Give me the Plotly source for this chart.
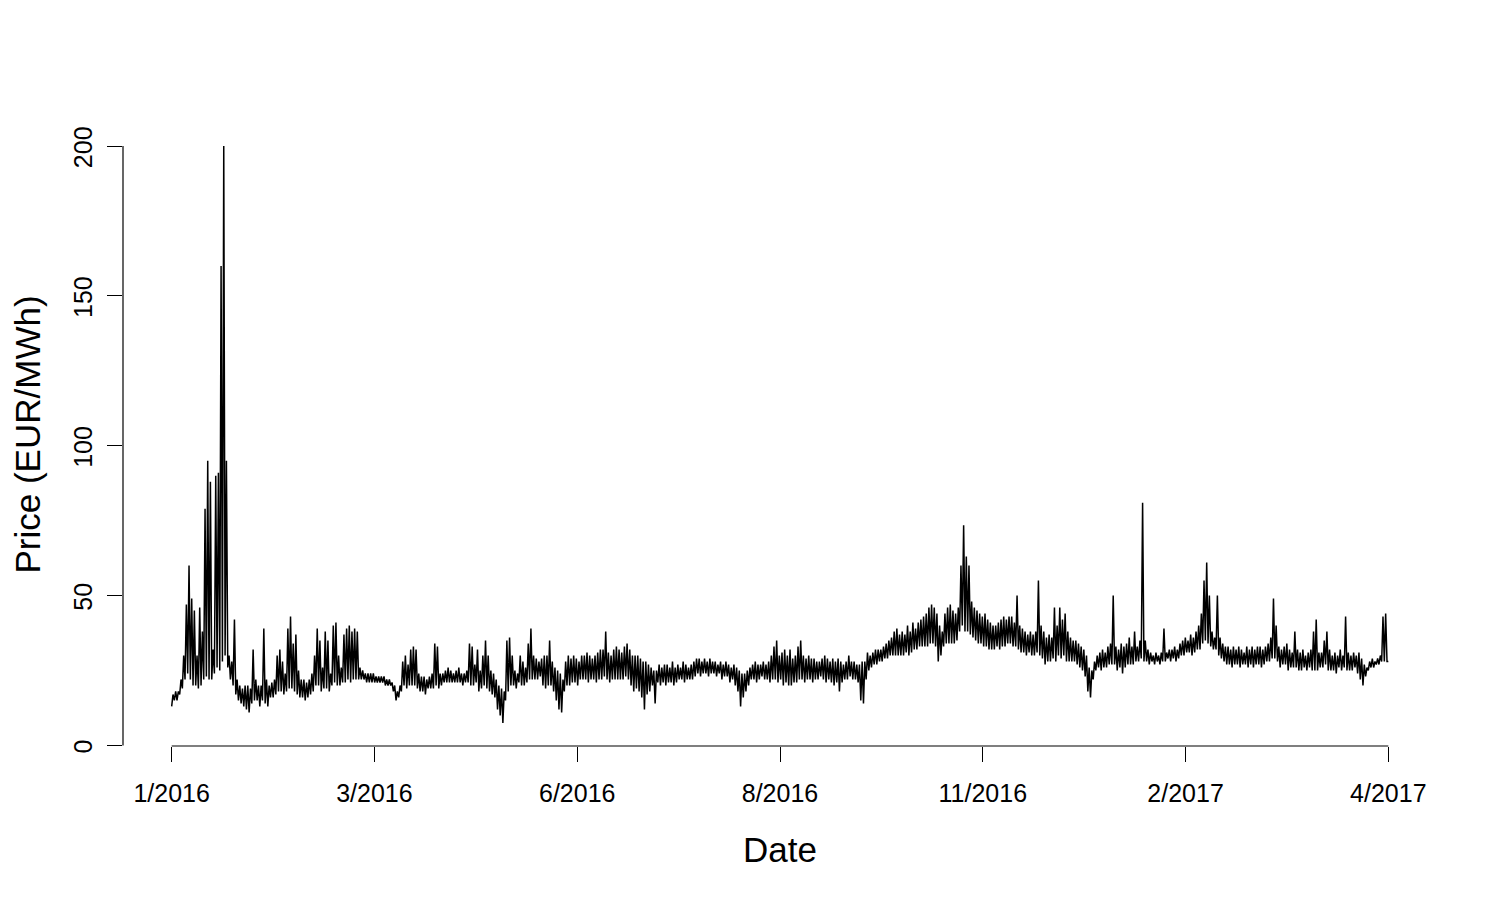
import numpy as np
import plotly.graph_objects as go

# Daily low / high of the hourly price (EUR/MWh), 1 Jan 2016 .. 1 Apr 2017
day_hi = [
17,18,18,22,30,47,60,
49,45,30,46,38,79,95,
88,32,90,91,160,200,95,
30,28,42,22,20,19,20,
20,19,32,22,20,20,39,
22,20,21,22,30,32,28,
24,39,43,34,37,25,22,
22,21,22,24,30,39,35,
26,38,35,24,40,41,30,
26,37,39,40,38,39,38,
26,25,24,24,24,24,23,
23,23,23,22,22,21,20,
18,20,28,30,27,32,33,
32,24,23,23,22,23,24,
34,33,24,24,25,26,25,
24,25,26,24,24,25,34,
33,27,32,25,30,35,30,
25,24,22,20,19,18,35,
36,30,25,24,30,28,26,
34,39,30,29,28,29,30,
30,35,28,26,25,24,22,
28,30,29,30,29,28,30,
30,31,30,29,30,31,32,
32,38,31,30,32,33,32,
31,33,34,32,30,30,30,
29,28,28,27,26,25,25,
27,26,27,27,26,28,26,
27,26,28,27,26,27,28,
29,29,28,29,28,29,28,
28,27,28,27,28,27,26,
27,26,25,24,24,25,26,
27,28,27,27,28,27,28,
30,33,35,30,31,32,30,
32,29,30,33,35,30,29,
30,29,29,28,28,29,30,
29,28,29,28,29,28,27,
28,30,28,28,27,27,28,
28,31,30,31,32,32,32,
33,34,35,36,38,39,37,
38,37,40,38,41,39,41,
42,43,44,46,47,46,44,
40,38,44,46,47,45,44,
46,60,73.5,63,60,48,46,
45,44,43,44,42,41,40,
40,41,42,43,42,43,43,
41,50,40,39,38,37,38,
37,38,55,40,38,36,37,
36,46,40,46,42,44,38,
36,35,35,34,33,32,30,
26,25,28,30,31,32,31,
33,34,50,33,32,34,33,
34,36,33,38,33,35,81,
35,32,31,30,31,30,31,
39,31,32,32,33,32,34,
35,36,35,37,36,38,40,
44,55,61,50,38,36,50,
36,34,33,33,32,33,32,
33,32,31,33,32,33,32,
33,33,32,33,34,36,49,
40,33,32,33,34,32,31,
38,32,31,32,30,31,32,
38,42,31,31,35,38,32,
30,31,30,32,30,43,31,
30,31,30,31,29,27,26,
28,29,28,29,30,43,44,
28]

day_lo = [
13,15,15,17,19,22,24,
22,20,20,19,20,22,23,
22,22,24,26,25,28,30,
26,22,20,17,15,14,13,
12,11,14,15,15,13,15,
14,13,16,16,17,18,18,
17,18,19,19,18,17,16,
16,15,16,17,18,20,20,
18,19,19,18,20,21,20,
20,21,21,22,21,22,22,
22,22,22,21,21,21,21,
21,21,21,20,20,20,18,
15,16,18,20,19,20,20,
20,19,18,18,17,19,19,
19,20,19,20,21,21,21,
21,21,21,21,20,21,21,
20,20,21,18,19,20,19,
18,17,16,12,10,7.5,15,
18,20,20,19,21,20,20,
21,22,22,22,22,23,20,
19,20,20,18,15,12,11,
18,20,20,21,21,20,22,
22,22,21,22,22,21,22,
22,23,22,21,22,22,22,
22,22,23,22,20,18,19,
18,16,12,17,18,20,14,
21,20,21,20,21,21,20,
21,22,22,21,22,22,22,
23,24,23,24,24,23,24,
24,23,24,22,23,23,21,
22,20,18,13,16,18,20,
22,22,21,22,23,22,22,
21,22,22,21,22,20,21,
20,20,21,21,22,22,21,
22,22,21,22,22,23,22,
21,22,21,20,21,18,21,
22,22,23,22,22,21,15,
14,22,25,26,27,27,28,
28,29,29,30,30,30,30,
30,30,31,30,31,32,32,
33,33,33,33,34,34,33,
28,30,33,34,34,34,34,
35,38,40,38,38,37,36,
35,34,34,33,33,32,32,
32,33,32,33,33,34,34,
33,33,32,31,31,30,31,
30,30,31,30,29,27,28,
28,29,28,30,29,30,28,
28,28,28,27,26,25,23,
18,16,22,25,26,25,26,
26,27,27,27,25,26,24,
26,27,27,27,28,28,29,
28,28,27,28,27,28,27,
28,28,29,28,29,28,29,
30,30,31,31,30,31,32,
32,34,35,34,33,32,32,
30,29,28,27,27,26,27,
27,26,27,27,26,27,26,
27,27,26,27,28,28,29,
29,28,26,27,27,25,26,
26,26,25,25,26,25,26,
25,25,25,26,26,27,25,
25,25,24,26,25,26,25,
25,25,26,24,22,20,23,
25,26,26,27,27,28,28,
28]

x_tick_labels = ["1/2016", "3/2016", "6/2016", "8/2016", "11/2016", "2/2017", "4/2017"]
y_tick_vals = [0, 50, 100, 150, 200]

# build the zig-zag series (daily low then daily high)
xs, ys = [], []
for d, (lo, hi) in enumerate(zip(day_lo, day_hi)):
    xs += [d, d + 0.5]
    ys += [lo, hi]
xs = np.array(xs, dtype=float)
ys = np.array(ys, dtype=float)

x0, x1 = xs.min(), xs.max()
y0, y1 = ys.min(), ys.max()
xpad = 0.04 * (x1 - x0)
ypad = 0.04 * (y1 - y0)
x_tick_vals = list(np.linspace(x0, x1, len(x_tick_labels)))

FONT = "Liberation Sans, Arial, Helvetica, sans-serif"

fig = go.Figure()
fig.add_trace(go.Scatter(x=xs, y=ys, mode="lines",
                         line=dict(color="black", width=1.5),
                         hoverinfo="skip", showlegend=False))

fig.update_layout(
    width=1500, height=900,
    margin=dict(l=123, r=63, t=123, b=154),
    paper_bgcolor="white", plot_bgcolor="white",
    font=dict(family=FONT, color="black", size=25),
    xaxis=dict(range=[x0 - xpad, x1 + xpad], showgrid=False, zeroline=False,
               showline=False, tickmode="array", tickvals=x_tick_vals,
               ticktext=x_tick_labels, ticks="outside", ticklen=15,
               tickwidth=1.2, tickcolor="black", ticklabelstandoff=10,
               tickfont=dict(size=25, family=FONT)),
    yaxis=dict(range=[y0 - ypad, y1 + ypad], showgrid=False, zeroline=False,
               showline=False, tickmode="array", tickvals=y_tick_vals,
               ticktext=[str(v) for v in y_tick_vals], ticks="outside",
               ticklen=15, tickwidth=1.2, tickcolor="black", tickangle=-90,
               ticklabelstandoff=5, ticklabelshift=5,
               tickfont=dict(size=25, family=FONT)),
    shapes=[
        dict(type="line", xref="x", yref="paper", x0=x_tick_vals[0], x1=x_tick_vals[-1],
             y0=0, y1=0, line=dict(color="black", width=1.2)),
        dict(type="line", xref="paper", yref="y", x0=0, x1=0,
             y0=y_tick_vals[0], y1=y_tick_vals[-1], line=dict(color="black", width=1.2)),
    ],
    annotations=[
        dict(text="Date", xref="paper", yref="paper", x=0.5, y=0, xanchor="center",
             yanchor="middle", yshift=-103, showarrow=False, font=dict(size=35, family=FONT)),
        dict(text="Price (EUR/MWh)", xref="paper", yref="paper", x=0, y=0.5,
             xanchor="center", yanchor="middle", xshift=-96, textangle=-90,
             showarrow=False, font=dict(size=35, family=FONT)),
    ],
)

fig.write_html("out.html")
